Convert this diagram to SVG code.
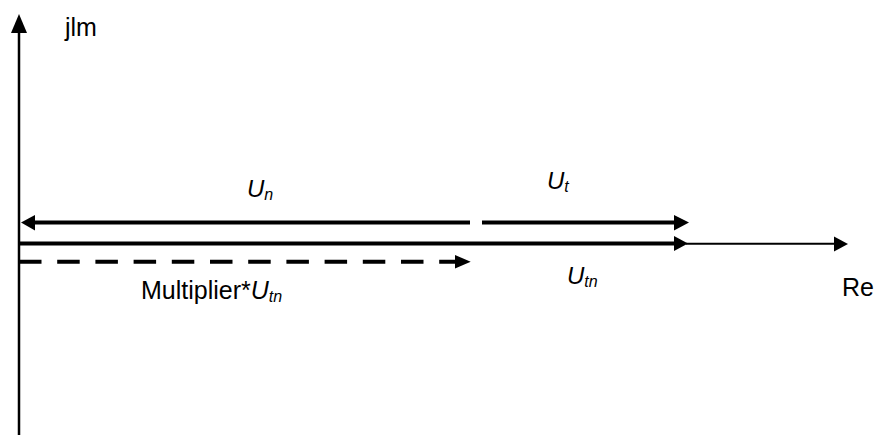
<svg xmlns="http://www.w3.org/2000/svg" width="875" height="435" viewBox="0 0 875 435">
<style>
.t{font-family:"Liberation Sans",Arial,sans-serif;fill:#000;font-size:24px}
.i{font-style:italic}
.s{font-style:italic;font-size:16px}
.thick{stroke:#000;stroke-width:4;fill:none}
.head{fill:#000}
</style>
<rect width="875" height="435" fill="#fff"/>
<g id="connectors">
<line x1="19" y1="435" x2="19" y2="30" stroke="#000" stroke-width="2.5"/>
<polygon class="head" points="19,14 11,33 27,33"/>
<line class="thick" x1="33" y1="222.5" x2="470" y2="222.5"/>
<polygon class="head" points="21,222.5 35,215 35,230.5"/>
<line class="thick" x1="482" y1="222.5" x2="676" y2="222.5"/>
<polygon class="head" points="689,222.5 674,215 674,230.5"/>
<line class="thick" x1="19" y1="243.5" x2="676" y2="243.5"/>
<polygon class="head" points="688,243.5 674,236 674,251"/>
<line x1="686" y1="243.8" x2="836" y2="243.8" stroke="#000" stroke-width="2"/>
<polygon class="head" points="848,244 834,236.5 834,251.5"/>
<line class="thick" x1="19" y1="261.7" x2="457" y2="261.7" stroke-dasharray="22.5 15.7"/>
<polygon class="head" points="470.7,261.7 455,255 455,268.4"/>
</g>
<g id="labels">
<text class="t" x="65" y="36" style="font-size:25px">jlm</text>
<text class="t" x="842" y="296" style="font-size:25px">Re</text>
<text class="t i" x="247" y="197">U<tspan class="s" dy="3">n</tspan></text>
<text class="t i" x="547" y="189">U<tspan class="s" dy="3">t</tspan></text>
<text class="t i" x="567" y="284">U<tspan class="s" dy="3">tn</tspan></text>
<text class="t" x="141" y="299" style="font-size:25px">Multiplier*<tspan class="i">U</tspan><tspan class="s" dy="3">tn</tspan></text>
</g>
</svg>
